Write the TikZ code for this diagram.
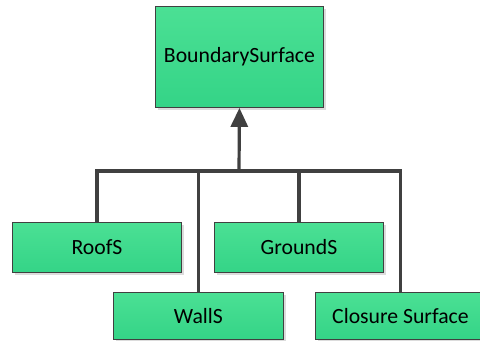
\documentclass[tikz,border=0pt]{standalone}
\usepackage{fontspec}
\setmainfont{Carlito}
\usetikzlibrary{arrows.meta,shadows}
\definecolor{boxtop}{RGB}{75,224,148}
\definecolor{boxbot}{RGB}{52,212,135}
\definecolor{edgec}{RGB}{64,64,64}
\definecolor{linec}{RGB}{64,64,64}
\definecolor{shadowc}{RGB}{220,220,220}
\tikzset{
  box/.style={draw=edgec, line width=0.9bp, top color=boxtop, bottom color=boxbot,
    minimum width=169bp, minimum height=50bp, inner sep=0pt, anchor=north west,
    font=\fontsize{21.8}{26}\selectfont,
    drop shadow={shadow xshift=3bp, shadow yshift=-3bp, fill=shadowc, opacity=1}},
  conn/.style={draw=linec, line width=3.2bp, line join=miter},
}
\begin{document}
\begin{tikzpicture}[x=1bp,y=-1bp]
\useasboundingbox (0,0) rectangle (480,340);
\node[box, minimum width=168bp, minimum height=101bp] (bs) at (155,6) {BoundarySurface};
\node[box] (roof) at (12,222) {RoofS};
\node[box] (ground) at (214,222) {GroundS};
\node[box, minimum width=170bp, minimum height=47bp] (walls) at (113,292) {WallS};
\node[box, minimum width=170bp, minimum height=47bp] (closure) at (315,292) {Closure Surface};
\coordinate (bus) at (239,171);
\draw[conn] (roof.north) |- (bus) -| (closure.north);
\draw[conn] (walls.north) -- (walls.north |- bus);
\draw[conn] (ground.north) -- (ground.north |- bus);
\draw[conn, -{Triangle[length=19bp,width=17bp]}] (bus) -- (bs.south);
\end{tikzpicture}
\end{document}
